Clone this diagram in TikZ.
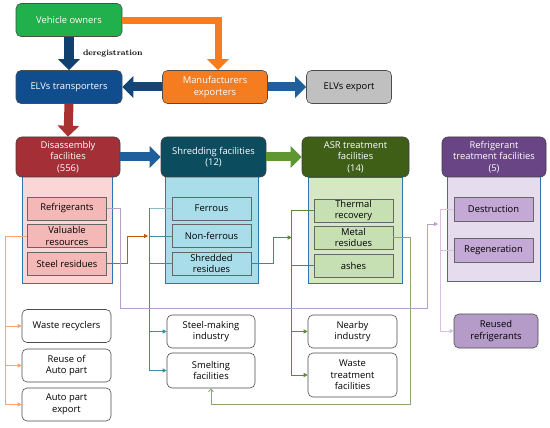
\documentclass[tikz,border=0pt]{standalone}
\usepackage{fontspec}
\setsansfont{Open Sans}
\usetikzlibrary{arrows.meta}
\definecolor{vogreen}{HTML}{20B04C}
\definecolor{trblue}{HTML}{0F4D8F}
\definecolor{mforange}{HTML}{F57C1F}
\definecolor{exgray}{HTML}{C0C0C0}
\definecolor{disred}{HTML}{A52F36}
\definecolor{dispink}{HTML}{FAD7D6}
\definecolor{disitem}{HTML}{F4B9B7}
\definecolor{shrteal}{HTML}{0B4C5F}
\definecolor{shrcyan}{HTML}{A9DDEA}
\definecolor{asrgreen}{HTML}{3F5F17}
\definecolor{asrlight}{HTML}{D6E8C3}
\definecolor{asritem}{HTML}{C6E0B4}
\definecolor{refpurple}{HTML}{6A4585}
\definecolor{reflight}{HTML}{E5DCED}
\definecolor{refitem}{HTML}{C4A8D5}
\definecolor{rritem}{HTML}{B49BC8}
\definecolor{bodyline}{HTML}{2E75B6}
\definecolor{arrnavy}{HTML}{10406E}
\definecolor{arrblue}{HTML}{1F5F9B}
\definecolor{arrred}{HTML}{A83232}
\definecolor{arrgreen}{HTML}{5E9732}
\definecolor{lnorange}{HTML}{F8A46B}
\definecolor{lnbrown}{HTML}{C55A11}
\definecolor{lnteal}{HTML}{3A8FA0}
\definecolor{lngreen}{HTML}{5C8A3A}
\definecolor{lnolive}{HTML}{8AA870}
\definecolor{lnpurple}{HTML}{B79FCB}
\definecolor{lnlilac}{HTML}{D9BFE2}
\begin{document}
\begin{tikzpicture}[x=1pt,y=-1pt,
    every node/.style={font=\sffamily\fontsize{9.4}{11.5}\selectfont, align=center, inner sep=1pt},
    topbox/.style={rounded corners=5pt, draw=black!70, line width=0.6pt, minimum width=106pt, minimum height=33pt},
    headbox/.style={rounded corners=6pt, draw=black!75, line width=0.6pt, text=white, minimum width=105pt, minimum height=40pt},
    bodybox/.style={draw=bodyline, line width=1pt, minimum width=92pt, minimum height=106pt},
    itembox/.style={draw=black!60, line width=0.6pt, minimum width=79pt, minimum height=23pt},
    destbox/.style={rounded corners=5pt, draw=black!70, line width=0.6pt, fill=white, minimum width=89pt, minimum height=33pt},
    fatarrow/.style={line width=9pt, -{Triangle[width=21pt,length=11pt]}},
    conn/.style={line width=0.8pt, -{Triangle[width=4pt,length=4pt]}}]
  \useasboundingbox (0,0) rectangle (550,428);
  % top row
  \node[topbox, fill=vogreen, text=white] (vo) at (69,20) {Vehicle owners};
  \node[topbox, fill=trblue, text=white] (tr) at (69,87) {ELVs transporters};
  \node[topbox, fill=mforange, text=white, minimum width=105pt] (mf) at (215,87) {Manufacturers\\exporters};
  \node[topbox, fill=exgray, minimum width=85pt] (ex) at (349,87) {ELVs export};
  % facility bodies
  \node[bodybox, fill=dispink, minimum width=90pt] (db) at (67,230) {};
  \node[bodybox, fill=shrcyan, minimum width=93pt] (sb) at (211.5,230) {};
  \node[bodybox, fill=asrlight, minimum width=94pt] (ab) at (355,230.5) {};
  \node[bodybox, fill=reflight, minimum width=93pt, minimum height=104pt] (rb) at (493.5,229) {};
  % facility heads
  \node[headbox, fill=disred, minimum width=104pt] (dh) at (68,157) {Disassembly\\facilities\\(556)};
  \node[headbox, fill=shrteal] (sh) at (213.5,157) {Shredding facilities\\(12)};
  \node[headbox, fill=asrgreen, minimum width=107pt] (ah) at (355.5,157) {ASR treatment\\facilities\\(14)};
  \node[headbox, fill=refpurple, minimum width=104pt] (rh) at (494,157) {Refrigerant\\treatment facilities\\(5)};
  % items
  \node[itembox, fill=disitem] (refg) at (67,208.5) {Refrigerants};
  \node[itembox, fill=disitem] (val) at (67,236) {Valuable\\resources};
  \node[itembox, fill=disitem] (steel) at (67,263.5) {Steel residues};
  \node[itembox, fill=shrcyan] (fer) at (211.5,208.5) {Ferrous};
  \node[itembox, fill=shrcyan] (nonf) at (211.5,236) {Non-ferrous};
  \node[itembox, fill=shrcyan] (shred) at (211.5,263.5) {Shredded\\residues};
  \node[itembox, fill=asritem] (therm) at (353.5,210.5) {Thermal\\recovery};
  \node[itembox, fill=asritem] (metal) at (353.5,237.5) {Metal\\residues};
  \node[itembox, fill=asritem] (ash) at (353.5,265.5) {ashes};
  \node[itembox, fill=refitem, minimum height=24pt] (destr) at (493.5,209) {Destruction};
  \node[itembox, fill=refitem, minimum height=24pt] (regen) at (493.5,250) {Regeneration};
  % destinations
  \node[destbox] (wr) at (66.5,326) {Waste recyclers};
  \node[destbox] (reuse) at (66.5,365.5) {Reuse of\\Auto part};
  \node[destbox] (ape) at (66.5,404.5) {Auto part\\export};
  \node[destbox, minimum width=88pt] (sm) at (211,331.5) {Steel-making\\industry};
  \node[destbox, minimum width=88pt, minimum height=35pt] (smelt) at (211,370.5) {Smelting\\facilities};
  \node[destbox] (nb) at (352.5,331.5) {Nearby\\industry};
  \node[destbox, minimum height=44pt] (wt) at (352.5,375) {Waste\\treatment\\facilities};
  \node[destbox, fill=rritem, minimum width=84pt, minimum height=34pt] (rr) at (496,331) {Reused\\refrigerants};
  % fat arrows
  \begin{scope}[fatarrow]
    \draw[arrnavy, line width=10pt] (vo.south) -- (tr.north)
      node[midway, right=8pt, text=black, font=\rmfamily\bfseries\fontsize{8}{10}\selectfont] {deregistration};
    \draw[mforange, line width=7pt] ([yshift=-1pt]vo.east) -| ([xshift=3pt]mf.north);
    \draw[arrnavy!80!arrblue] (mf.west) -- (tr.east);
    \draw[arrblue] (mf.east) -- (ex.west);
    \draw[arrred] (tr.south) -- (dh.north);
    \draw[arrblue] (dh.east) -- (sh.west);
    \draw[arrgreen] (sh.east) -- (ah.west);
  \end{scope}
  % thin connectors
  \begin{scope}[conn]
    \draw[lnorange, -] (val.west) -- ++(-22,0) coordinate (o1) |- (ape.west);
    \draw[lnorange] (o1) |- (wr.west);
    \draw[lnorange] (o1) |- (reuse.west);
    \draw[lnorange] (o1) |- (ape.west);
    \draw[lnteal!60, -] (fer.west) -- ++(-22,0) coordinate (t1);
    \draw[lnteal, -] (nonf.west) -- (t1 |- nonf.west);
    \draw[lnteal, -] (shred.west) -- (t1 |- shred.west);
    \draw[lnteal] (t1) |- (sm.west);
    \draw[lnteal] (t1) |- (smelt.west);
    \draw[lnbrown, shorten >=1.5pt] (steel.east) -- ++(21,0) |- (t1 |- nonf.west);
    \draw[lngreen, -] (therm.west) -- ++(-22,0) coordinate (g1);
    \draw[lngreen, -] (ash.west) -- (g1 |- ash.west);
    \draw[lngreen] (g1) |- (nb.west);
    \draw[lngreen] (g1) |- (wt.west);
    \draw[lngreen] (shred.east) -- ++(22,0) |- (g1 |- metal.west);
    \draw[lnolive, -{Straight Barb[length=3pt,width=5pt]}] (metal.east) -| (410,404) -| (smelt.south);
    \draw[lnpurple] (refg.east) -| (120,308) -| (427,224) -- (438,224);
    \draw[lnlilac, -] (destr.west) -- ++(-13,0) coordinate (p1);
    \draw[lnlilac, -] (regen.west) -- (p1 |- regen.west);
    \draw[lnlilac] (p1) |- (rr.west);
  \end{scope}
\end{tikzpicture}
\end{document}
